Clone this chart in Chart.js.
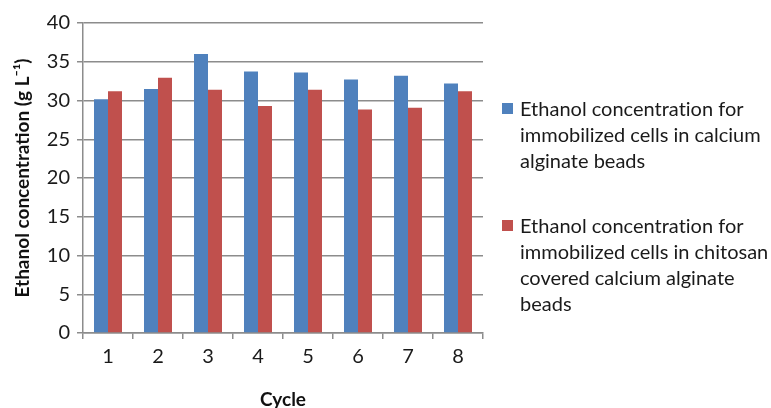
<!DOCTYPE html>
<html>
<head>
<meta charset="utf-8">
<script src="https://cdn.jsdelivr.net/npm/chart.js@4/dist/chart.umd.min.js"></script>
<style>
  html, body { margin: 0; padding: 0; background: #fff; }
  #wrap { position: relative; width: 771px; height: 408px; overflow: hidden; }
  #legend { position: absolute; left: 502px; top: 0; font-family: Lato, "Open Sans", sans-serif; font-size: 20px; color: #1a1a1a; line-height: 26px; font-variant-ligatures: none; }
  .item { position: absolute; left: 0; white-space: nowrap; }
  .box { position: absolute; left: 0; top: 8px; width: 11px; height: 11px; }
  .txt { position: absolute; left: 18px; top: 0; }
</style>
</head>
<body>
<div id="wrap">
  <canvas id="chart" width="771" height="408"></canvas>
  <div id="legend"></div>
</div>
<script>
/* ---------- Data ---------- */
const cycles = ["1", "2", "3", "4", "5", "6", "7", "8"];
const alginate = [30.15, 31.5, 36.0, 33.75, 33.6, 32.7, 33.2, 32.2];
const chitosan = [31.2, 32.95, 31.4, 29.3, 31.4, 28.85, 29.05, 31.2];
const seriesNames = [
  ["Ethanol concentration for", "immobilized cells in calcium", "alginate beads"],
  ["Ethanol concentration for", "immobilized cells in chitosan", "covered calcium alginate", "beads"]
];
const colors = ["#4F81BD", "#C0504D"];

const FONT = "Lato, 'Open Sans', sans-serif";
const GRID = "#8c8c8c";

/* ---------- Chart ---------- */
new Chart(document.getElementById("chart"), {
  type: "bar",
  data: {
    labels: cycles,
    datasets: [
      { label: seriesNames[0].join(" "), data: alginate, backgroundColor: colors[0] },
      { label: seriesNames[1].join(" "), data: chitosan, backgroundColor: colors[1] }
    ]
  },
  options: {
    responsive: false,
    animation: false,
    layout: { padding: { left: 0, right: 288, top: 23, bottom: 0 } },
    datasets: { bar: { categoryPercentage: 0.56, barPercentage: 1 } },
    plugins: { legend: { display: false }, tooltip: { enabled: false } },
    scales: {
      x: {
        afterFit: s => { s.height = 75; s.paddingLeft = 0; s.paddingRight = 0; },
        grid: { display: true, drawOnChartArea: false, drawTicks: true, tickLength: 6, color: GRID, lineWidth: 1.5, offset: true },
        border: { color: GRID, width: 1.5 },
        ticks: { color: "#1a1a1a", font: { family: FONT, size: 20 }, padding: 6 },
        title: { display: true, text: "Cycle", color: "#111", font: { family: FONT, size: 19, weight: "bold", lineHeight: 1 }, padding: { top: 0, bottom: -1 } }
      },
      y: {
        min: 0, max: 40,
        afterFit: s => { s.width = 83; s.paddingTop = 0; s.paddingBottom = 0; },
        grid: { color: GRID, lineWidth: 1.5, tickLength: 6 },
        border: { color: GRID, width: 1.5 },
        ticks: { stepSize: 5, color: "#1a1a1a", font: { family: FONT, size: 20 }, padding: 7 },
        title: { display: true, text: "Ethanol concentration (g L\u207B\u00B9)", color: "#111", font: { family: FONT, size: 19, weight: "bold" }, padding: { top: 11, bottom: 0 } }
      }
    }
  }
});

/* ---------- Legend ---------- */
const legend = document.getElementById("legend");
const tops = [95, 212];
seriesNames.forEach((lines, i) => {
  const it = document.createElement("div");
  it.className = "item";
  it.style.top = tops[i] + "px";
  it.innerHTML = `<span class="box" style="background:${colors[i]}"></span><span class="txt">${lines.join("<br>")}</span>`;
  legend.appendChild(it);
});
</script>
</body>
</html>
